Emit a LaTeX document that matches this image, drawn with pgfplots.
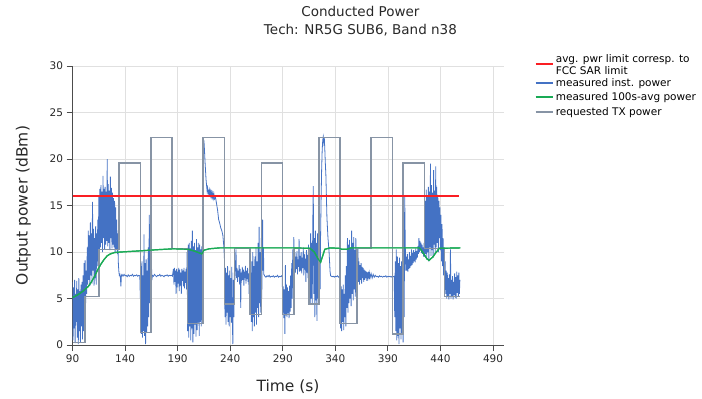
\documentclass[border=0pt]{standalone}
\usepackage{pgfplots}
\pgfplotsset{compat=1.18}
\usepackage{fontspec}
\setmainfont{DejaVu Sans}

\definecolor{limred}{RGB}{250,30,35}
\definecolor{instblue}{RGB}{68,114,196}
\definecolor{avggreen}{RGB}{25,170,85}
\definecolor{reqgray}{RGB}{135,148,165}
\definecolor{txtgray}{RGB}{40,40,40}

\pgfplotstableread{
t p
90 16
458 16
}\limittab

\pgfplotstableread{
t p
90 0.3
102 5.2
115.4 10.3
134.2 19.6
154.5 1.35
164.7 22.3
184.7 10.4
199.6 2.3
214.3 22.3
234.5 4.4
244 10.4
259 3.3
269.8 19.6
289.7 3.3
300.8 10.4
315.1 4.4
324.6 22.3
344.6 2.3
360.4 10.4
374 22.3
394.6 1.2
404.3 19.6
425 10.4
444 5.2
459 5.2
}\reqtab

\pgfplotstableread{
t p
90 5.1
95 5.4
100 5.8
105 6.3
108 6.8
111 7.4
114 8.1
117 8.7
120 9.2
123 9.6
126 9.8
130 9.95
135 10.0
150 10.1
170 10.25
186 10.35
200 10.3
206 10.1
211 9.9
213 9.8
215 10.2
220 10.35
230 10.45
300 10.45
316 10.4
320 10.0
324 9.2
326 8.9
328 9.6
330 10.3
335 10.45
344 10.4
346 10.3
351 10.3
355 10.45
420 10.45
423 10.0
427 9.3
429 9.1
433 9.5
436 10.0
439 10.4
459 10.45
}\avgtab

\begin{document}
\begin{tikzpicture}[x=1pt,y=1pt]
\path[use as bounding box] (0,0) rectangle (702,399);
\begin{axis}[
  at={(69,58)}, anchor=south west,
  width=431pt, height=279pt, scale only axis,
  xmin=90, xmax=500, ymin=0, ymax=30,
  xtick={90,140,...,490}, ytick={0,5,...,30},
  grid=major, major grid style={black!12, line width=0.7pt},
  axis x line*=bottom, axis y line*=left,
  axis line style={black!70, line width=0.8pt, -},
  tick align=outside, major tick length=6pt,
  tick style={black!70, line width=0.8pt},
  /pgf/number format/assume math mode=true,
  tick label style={font=\fontsize{10.5}{12}\selectfont\color{txtgray}},
  xlabel={Time (s)}, ylabel={Output power (dBm)},
  label style={font=\fontsize{15.5}{18}\selectfont\color{txtgray}},
  xlabel style={at={(axis description cs:0.5,-0.15)}, anchor=center},
  ylabel style={at={(axis description cs:-0.114,0.5)}, anchor=center},
  title={Conducted Power\\Tech: NR5G SUB6, Band n38},
  title style={at={(axis description cs:0.668,1.075)}, anchor=south,
    align=center, font=\fontsize{13.5}{18}\selectfont\color{txtgray}},
  legend style={at={(axis description cs:1.065,1.056)}, anchor=north west,
    draw=none, fill=none, font=\fontsize{10.5}{11.5}\selectfont,
    row sep=1pt, cells={anchor=west}},
  legend image post style={line width=2pt},
]
% legend order: limit, inst, avg, requested
\addplot[draw=limred, line width=1.6pt] table[x=t, y=p] {\limittab};
\addlegendentry{\begin{tabular}{@{}l@{}}avg. pwr limit corresp. to\\FCC SAR limit\rule[-9pt]{0pt}{9pt}\end{tabular}}

% measured instantaneous power
\addplot[draw=instblue, line width=0.8pt] coordinates {
(90.0,6.8) (90.5,0.5) (91.0,6.2) (91.5,1.8) (92.0,7.0) (92.5,0.2) (93.0,5.5) (93.5,2.5)
(94.0,6.9) (94.5,0.8) (95.0,6.0) (95.5,0.1) (96.0,7.2) (96.5,1.5) (97.0,5.8) (97.5,0.3)
(98.0,6.5) (98.5,2.0) (99.0,6.8) (99.5,0.6) (100.0,7.5)
(100.5,1.5) (101.0,8.8) (101.5,3.0) (102.0,9.1) (102.5,4.5) (103.0,8.0) (103.5,5.5) (104.0,10.5)
(104.5,6.5) (105.0,12.3) (105.5,7.0) (106.0,11.8) (106.5,6.4) (107.0,13.2) (107.5,7.5) (108.0,12.0)
(108.5,6.6) (109.0,15.4) (109.5,8.0) (110.0,12.5) (110.5,6.4) (111.0,11.5) (111.5,7.2) (112.0,12.8)
(112.5,6.5) (113.0,12.0) (113.5,8.5) (114.0,13.5) (114.5,9.0) (115.0,16.0)
(115.5,10.2) (116.0,16.8) (116.5,10.5) (117.0,17.2) (117.5,11.0) (118.0,16.5) (118.5,10.0) (119.0,18.2)
(119.5,11.5) (120.0,16.8) (120.5,10.3) (121.0,17.0) (121.5,10.8) (122.0,16.5) (122.5,11.2) (123.0,20.0)
(123.5,10.6) (124.0,17.3) (124.5,11.0) (125.0,16.6) (125.5,10.2) (126.0,18.1) (126.5,11.5) (127.0,16.9)
(127.5,10.4) (128.0,16.4) (128.5,10.8) (129.0,15.8) (129.5,10.5) (130.0,15.5) (130.5,10.0) (131.0,14.8)
(131.5,10.3) (132.0,13.5) (132.5,9.8) (133.0,12.0) (133.5,9.0)
(134.0,8.0) (134.5,7.5) (135.0,7.6) (135.5,7.3) (136.0,6.3) (136.5,7.5) (137.0,7.6)
(138,7.4) (139,7.6) (140,7.45) (141,7.5) (142,7.35) (143,7.55) (144,7.4) (145,7.5) (146,7.45)
(147,7.6) (148,7.4) (149,7.5) (150,7.45) (151,7.55) (152,7.4) (153,7.5) (154,7.45)
(154.5,5.0) (155.0,8.5) (155.5,1.2) (156.0,9.0) (156.5,0.8) (157.0,7.5) (157.5,1.5) (158.0,11.9)
(158.5,1.0) (159.0,8.8) (159.5,0.1) (160.0,9.2) (160.5,1.3) (161.0,8.0) (161.5,2.0) (162.0,10.5)
(162.5,3.0) (163.0,14.0) (163.5,4.5) (164.0,13.0) (164.5,5.5) (165.0,9.0) (165.5,7.0)
(166,7.5) (167,7.4) (168,7.6) (169,7.45) (170,7.35) (171,7.5) (172,7.45) (173,7.6) (174,7.4)
(175,7.5) (176,7.45) (177,7.35) (178,7.5) (179,7.45) (180,7.55) (181,7.4) (182,7.5) (183,7.45)
(184,7.5) (185,7.4)
(186.0,8.2) (186.5,6.5) (187.0,8.3) (187.5,6.8) (188.0,8.0) (188.5,5.5) (189.0,8.2) (189.5,6.2)
(190.0,7.9) (190.5,6.6) (191.0,8.3) (191.5,5.8) (192.0,8.1) (192.5,6.4) (193.0,7.8) (193.5,5.5)
(194.0,8.2) (194.5,6.9) (195.0,8.0) (195.5,6.3) (196.0,8.3) (196.5,6.1) (197.0,7.9) (197.5,6.7)
(198.0,8.2) (198.5,6.0)
(199.0,10.0) (199.5,1.5) (200.0,10.8) (200.5,0.8) (201.0,11.0) (201.5,2.0) (202.0,10.4) (202.5,0.5)
(203.0,11.2) (203.5,1.8) (204.0,12.3) (204.5,0.3) (205.0,10.6) (205.5,1.2) (206.0,11.0) (206.5,2.2)
(207.0,10.2) (207.5,0.9) (208.0,11.4) (208.5,1.6) (209.0,10.5) (209.5,2.4) (210.0,11.0) (210.5,1.0)
(211.0,10.8) (211.5,2.5) (212.0,10.3) (212.5,2.0) (213.0,10.6) (213.5,3.0) (214.0,11.0)
(214.5,21.4) (215.0,22.0) (215.5,21.0) (216.0,19.8) (217.0,17.8) (218.0,16.6) (218.5,16.9) (219.0,16.2)
(219.5,16.7) (220.0,16.0) (220.5,16.6) (221.0,16.1) (221.5,16.5) (222.0,16.0) (222.5,16.4) (223.0,15.9)
(223.5,16.3) (224.0,15.8) (224.5,16.2) (225.0,15.7) (226.0,15.9) (227.0,15.2) (228.0,14.5) (229.0,13.5)
(230.0,13.1) (231.0,12.6) (232.0,12.3) (233.0,11.8) (234.0,10.5) (234.6,9.0)
(235.0,3.0) (235.5,8.3) (236.0,2.2) (236.5,7.8) (237.0,3.5) (237.5,8.5) (238.0,2.5) (238.5,7.5)
(239.0,2.0) (239.5,8.0) (240.0,3.0) (240.5,7.2) (241.0,2.4) (241.5,8.4) (242.0,2.8) (242.5,0.1)
(243.0,7.0) (243.5,3.0) (244.0,8.0)
(244.5,7.0) (245.0,8.5) (245.5,10.3) (246.0,7.2) (246.5,8.3) (247.0,6.8) (247.5,8.0) (248.0,7.3)
(248.5,8.6) (249.0,6.5) (249.5,8.2) (250.0,4.0) (250.5,7.8) (251.0,6.9) (251.5,8.4) (252.0,7.0)
(252.5,8.1) (253.0,6.4) (253.5,7.9) (254.0,7.2) (254.5,8.5) (255.0,6.6) (255.5,8.0) (256.0,7.1)
(256.5,8.3) (257.0,6.8) (257.5,7.7) (258.0,5.5) (258.5,8.2) (259.0,6.5) (259.5,7.8)
(260.0,2.5) (260.5,9.0) (261.0,1.5) (261.5,10.0) (262.0,3.0) (262.5,8.5) (263.0,2.0) (263.5,9.5)
(264.0,3.5) (264.5,10.5) (265.0,2.2) (265.5,9.0) (266.0,4.0) (266.5,11.0) (267.0,3.0) (267.5,12.7)
(268.0,4.5) (268.5,10.0) (269.0,3.5) (269.5,11.5) (270.0,5.0) (270.8,13.5) (271.2,8.0) (271.6,10.5)
(272.0,7.6)
(273,7.4) (274,7.3) (275,7.45) (276,7.35) (277,7.5) (278,7.3) (279,7.4) (280,7.35) (281,7.45)
(282,7.3) (283,7.4) (284,7.35) (285,7.5) (286,7.3) (287,7.4) (288,7.35) (289,7.45) (289.5,7.3)
(290.0,3.5) (290.5,6.3) (291.0,2.9) (291.5,6.0) (292.0,1.2) (292.5,8.6) (293.0,3.2) (293.5,6.5)
(294.0,3.0) (294.5,6.2) (295.0,3.4) (295.5,5.8) (296.0,2.9) (296.5,6.4) (297.0,3.6) (297.5,7.5)
(298.0,4.0) (298.5,8.8) (299.0,5.0) (299.5,10.3) (300.0,6.5) (300.5,11.6) (301.0,8.0)
(301.5,10.0) (302.0,7.8) (302.5,9.5) (303.0,8.2) (303.5,10.1) (304.0,7.6) (304.5,9.2) (305.0,8.4)
(305.5,11.4) (306.0,7.9) (306.5,9.6) (307.0,8.0) (307.5,10.0) (308.0,7.7) (308.5,9.4) (309.0,8.3)
(309.5,10.5) (310.0,7.5) (310.5,9.8) (311.0,8.1) (311.5,9.3) (312.0,6.8) (312.5,10.2) (313.0,7.8)
(313.5,9.7) (314.0,7.2) (314.5,10.8) (315.0,7.0) (315.5,9.5)
(316.0,4.5) (316.5,12.0) (317.0,5.0) (317.5,11.0) (318.0,4.4) (318.5,12.6) (319.0,17.1) (319.5,5.5)
(320.0,11.5) (320.5,3.0) (321.0,12.3) (321.5,4.8) (322.0,11.0) (322.5,2.6) (323.0,12.0) (323.5,5.0)
(324.0,11.5) (324.5,4.5) (325.0,10.0) (325.5,6.0)
(326.0,12.0) (326.5,16.0) (327.0,19.0) (327.5,21.0) (328.0,22.0) (328.5,22.4) (329.0,21.8) (329.5,22.3)
(330.0,21.0) (330.5,19.5) (331.0,18.3) (331.5,16.0) (332.0,13.7) (333.0,11.5) (334.0,10.1) (334.5,9.0)
(335.0,7.9) (335.5,7.45)
(337,7.35) (338,7.4) (339,7.3) (340,7.4) (341,7.35) (342,7.45) (343,7.3) (344,7.4)
(344.6,5.0) (345.0,1.8) (345.5,6.3) (346.0,1.5) (346.5,6.0) (347.0,2.5) (347.5,6.5) (348.0,1.6)
(348.5,5.5) (349.0,3.0) (349.5,7.5) (350.0,2.0) (350.5,8.5)
(351.0,4.0) (351.5,11.5) (352.0,3.5) (352.5,10.8) (353.0,4.5) (353.5,11.3) (354.0,5.0) (354.5,10.5)
(355.0,4.2) (355.5,12.3) (356.0,5.5) (356.5,11.0) (357.0,4.8) (357.5,11.6) (358.0,6.0) (358.5,10.2)
(359.0,5.2) (359.5,11.5) (360.0,6.5) (360.5,9.8) (361.0,6.0) (361.5,10.5) (362.0,6.8)
(362.5,9.0) (363.0,6.5) (363.5,8.6) (364.0,7.0) (364.5,8.8) (365.0,6.6) (365.5,8.4) (366.0,7.2)
(366.5,8.3) (367.0,6.8) (367.5,8.1) (368.0,7.0) (368.5,8.0) (369.0,7.2) (369.5,7.9) (370.0,6.9)
(370.5,7.8) (371.0,7.3) (371.5,7.9) (372.0,7.1) (372.5,7.7) (373.0,7.2) (374.0,7.7) (375.0,7.2)
(376.0,7.6) (377.0,7.3) (378.0,7.5)
(379,7.35) (380,7.4) (381,7.3) (382,7.45) (383,7.35) (384,7.4) (385,7.3) (386,7.4) (387,7.35)
(388,7.45) (389,7.3) (390,7.4) (391,7.35) (392,7.4) (393,7.3) (394,7.4) (395,7.35) (396,7.4)
(396.5,3.0) (397.0,9.0) (397.5,1.5) (398.0,10.3) (398.5,0.5) (399.0,9.5) (399.5,1.0) (400.0,8.8)
(400.5,0.1) (401.0,9.4) (401.5,1.8) (402.0,8.5) (402.5,0.6) (403.0,9.0) (403.5,1.2) (404.0,8.0)
(404.5,0.3) (405.0,9.2) (405.5,3.0)
(406.0,16.0) (406.5,11.0) (407.0,8.0)
(407.5,9.5) (408.0,8.0) (408.5,9.8) (409.0,7.9) (409.5,9.2) (410.0,8.2) (410.5,10.0) (411.0,8.3)
(411.5,9.6) (412.0,8.5) (412.5,10.3) (413.0,8.6) (413.5,9.9) (414.0,8.8) (414.5,10.2) (415.0,9.0)
(415.5,10.0) (416.0,8.9) (416.5,10.4) (417.0,9.2) (417.5,10.1) (418.0,9.4) (418.5,10.6)
(419.0,9.8) (419.5,11.5) (420.0,10.0) (420.5,11.2) (421.0,10.2) (421.5,11.0) (422.0,9.9) (422.5,10.8)
(423.0,9.8) (423.5,10.5) (424.0,9.5) (424.5,11.0)
(425.0,9.5) (425.5,15.5) (426.0,9.8) (426.5,16.7) (427.0,9.2) (427.5,16.0) (428.0,10.0) (428.5,17.0)
(429.0,9.0) (429.5,16.5) (430.0,10.5) (430.5,19.5) (431.0,9.6) (431.5,17.2) (432.0,10.2) (432.5,16.4)
(433.0,9.4) (433.5,18.8) (434.0,10.8) (434.5,16.6) (435.0,9.8) (435.5,19.2) (436.0,10.5) (436.5,17.0)
(437.0,11.0) (437.5,16.0) (438.0,10.0) (438.5,15.5) (439.0,11.5) (439.5,14.8) (440.0,10.2) (440.5,14.0)
(441.0,9.0) (441.5,13.0) (442.0,8.5) (442.5,11.5) (443.0,7.5) (443.5,10.5) (444.0,6.0) (444.5,9.0)
(445.0,5.5) (445.5,8.0)
(446.0,5.0) (446.5,7.8) (447.0,5.2) (447.5,7.2) (448.0,4.9) (448.5,7.6) (449.0,5.5) (449.5,10.3)
(450.0,5.0) (450.5,7.0) (451.0,5.3) (451.5,7.4) (452.0,4.9) (452.5,6.8) (453.0,5.4) (453.5,7.7)
(454.0,5.1) (454.5,7.3) (455.0,5.0) (455.5,7.9) (456.0,5.6) (456.5,7.5) (457.0,5.2) (457.5,7.8)
(458.0,5.5) (458.5,7.0)
};
\addlegendentry{measured inst. power}

\addplot[draw=avggreen, line width=1.2pt] table[x=t, y=p] {\avgtab};
\addlegendentry{measured 100s-avg power}

\addplot[draw=reqgray, line width=1.5pt, const plot] table[x=t, y=p] {\reqtab};
\addlegendentry{requested TX power}

% the same three series again, so that they lie above the blue trace
\addplot[draw=reqgray, line width=1.5pt, const plot, forget plot] table[x=t, y=p] {\reqtab};
\addplot[draw=avggreen, line width=1.2pt, forget plot] table[x=t, y=p] {\avgtab};
\addplot[draw=limred, line width=1.6pt, forget plot] table[x=t, y=p] {\limittab};
\end{axis}
\end{tikzpicture}
\end{document}
